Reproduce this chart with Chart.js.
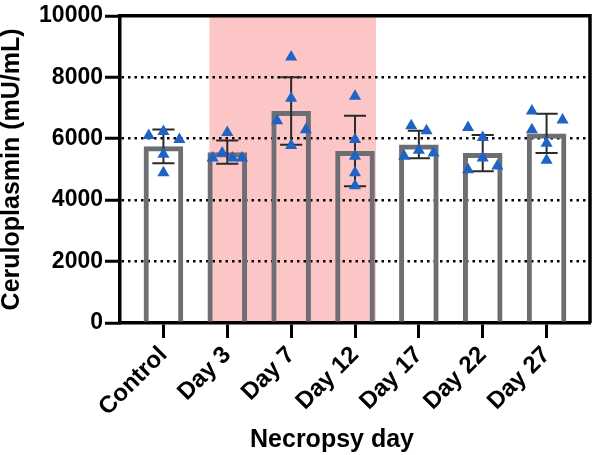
<!DOCTYPE html>
<html>
<head>
<meta charset="utf-8">
<script src="https://cdn.jsdelivr.net/npm/chart.js@4.4.1/dist/chart.umd.min.js"></script>
<style>
  html, body { margin: 0; padding: 0; background: #fff; }
  #wrap { width: 597px; height: 455px; }
</style>
</head>
<body>
<div id="wrap"><canvas id="cpChart"></canvas></div>
<script>
const days = ["Control", "Day 3", "Day 7", "Day 12", "Day 17", "Day 22", "Day 27"];
const means = [5750, 5560, 6900, 5600, 5810, 5530, 6170];
const sds = [550, 380, 1100, 1150, 450, 590, 640];

// one list of animals per day
const animals = [
    [6100, 6230, 5975, 5495, 4890],
    [5370, 5530, 6200, 5370, 5370],
    [6580, 8660, 7315, 5780, 6290],
    [7380, 5975, 5430, 4890, 4470],
    [5430, 6420, 5620, 6260, 5530],
    [6360, 6040, 5370, 4985, 5110],
    [6900, 6290, 6610, 5850, 5300]
];
// sideways spread of the dots, in category widths
const jitter = [
    [-0.23, 0, 0.25, 0, 0],
    [-0.23, -0.08, 0, 0.08, 0.23],
    [-0.22, 0, 0, 0, 0.23],
    [0, 0, 0, 0, 0],
    [-0.23, -0.12, 0, 0.12, 0.23],
    [-0.23, 0, 0, -0.23, 0.23],
    [-0.23, -0.23, 0.25, 0, 0]
];

const yTitle = "Ceruloplasmin (mU/mL)";
const xTitle = "Necropsy day";
const shaded = [0.72, 3.33]; // Day 3 .. Day 12 window

const fontFamily = "'Liberation Sans', Arial, sans-serif";

const shadePlugin = {
    id: "shade",
    beforeDraw(chart) {
        const { ctx, chartArea, scales } = chart;
        const x1 = scales.x.getPixelForValue(shaded[0]);
        const x2 = scales.x.getPixelForValue(shaded[1]);
        ctx.save();
        ctx.fillStyle = "rgb(252,198,198)";
        ctx.fillRect(x1, chartArea.top, x2 - x1, chartArea.bottom - chartArea.top);
        ctx.restore();
    }
};

const errorBars = {
    id: "errorBars",
    afterDatasetDraw(chart, args) {
        if (args.index !== 0) return;
        const { ctx, scales } = chart;
        ctx.save();
        ctx.strokeStyle = "#2a2a2a";
        ctx.lineWidth = 2;
        args.meta.data.forEach((bar, i) => {
            const hi = scales.y.getPixelForValue(means[i] + sds[i]);
            const lo = scales.y.getPixelForValue(means[i] - sds[i]);
            const half = bar.width * 0.28;
            ctx.beginPath();
            ctx.moveTo(bar.x, hi);
            ctx.lineTo(bar.x, lo);
            ctx.moveTo(bar.x - half, hi);
            ctx.lineTo(bar.x + half, hi);
            ctx.moveTo(bar.x - half, lo);
            ctx.lineTo(bar.x + half, lo);
            ctx.stroke();
        });
        ctx.restore();
    }
};

const framePlugin = {
    id: "frame",
    afterDraw(chart) {
        const { ctx, chartArea } = chart;
        ctx.save();
        ctx.strokeStyle = "#000";
        ctx.lineWidth = 3.5;
        ctx.beginPath();
        ctx.moveTo(chartArea.left, chartArea.top);
        ctx.lineTo(chartArea.right, chartArea.top);
        ctx.lineTo(chartArea.right, chartArea.bottom);
        ctx.stroke();

        ctx.fillStyle = "#000";
        ctx.font = "bold 25px " + fontFamily;
        ctx.textAlign = "center";
        ctx.textBaseline = "alphabetic";
        ctx.fillText(xTitle, (chartArea.left + chartArea.right) / 2 - 23, 447);
        ctx.restore();
    }
};

const barData = means.map((m, i) => ({ x: i, y: m }));
const dotData = animals.flatMap((vals, i) => vals.map((v, k) => ({ x: i + jitter[i][k], y: v })));

new Chart(document.getElementById("cpChart"), {
    type: "bar",
    data: {
        datasets: [{
            type: "bar",
            data: barData,
            backgroundColor: "rgba(0,0,0,0)",
            borderColor: "#6c6e73",
            borderWidth: 5,
            borderSkipped: "start",
            barPercentage: 0.62,
            categoryPercentage: 1,
            order: 1
        }, {
            type: "scatter",
            data: dotData,
            pointStyle: "triangle",
            pointRadius: 7,
            pointBackgroundColor: "#1f63c4",
            pointBorderColor: "#1f63c4",
            pointBorderWidth: 0,
            order: 0
        }]
    },
    options: {
        responsive: true,
        maintainAspectRatio: false,
        animation: false,
        layout: { padding: { top: 10, right: 3, left: 0, bottom: 0 } },
        plugins: { legend: { display: false }, tooltip: { enabled: false } },
        scales: {
            x: {
                type: "linear",
                min: -0.68,
                max: 6.68,
                offset: false,
                afterBuildTicks: s => { s.ticks = days.map((d, i) => ({ value: i })); },
                afterFit: s => { s.height = 132; },
                ticks: {
                    autoSkip: false,
                    minRotation: 45,
                    maxRotation: 45,
                    color: "#000",
                    padding: 3,
                    font: { family: fontFamily, size: 24, weight: "bold" },
                    callback: v => days[Math.round(v)]
                },
                grid: {
                    drawOnChartArea: false,
                    drawTicks: true,
                    tickLength: 15,
                    tickWidth: 3,
                    tickColor: "#000",
                    offset: false
                },
                border: { color: "#000", width: 3.5 }
            },
            y: {
                min: 0,
                max: 10000,
                afterFit: s => { s.width = 120; },
                ticks: {
                    stepSize: 2000,
                    color: "#000",
                    padding: 2,
                    font: { family: fontFamily, size: 23, weight: "bold" },
                    callback: v => String(v)
                },
                grid: {
                    color: c => (c.tick && c.tick.value > 0 && c.tick.value < 10000) ? "#000" : "rgba(0,0,0,0)",
                    lineWidth: 2.5,
                    tickLength: 15,
                    tickWidth: 3,
                    tickColor: "#000",
                    tickBorderDash: []
                },
                border: { color: "#000", width: 3.5, dash: [2.5, 4] },
                title: {
                    display: true,
                    text: yTitle,
                    color: "#000",
                    padding: 0,
                    font: { family: fontFamily, size: 25, weight: "bold", lineHeight: 1 }
                }
            }
        }
    },
    plugins: [shadePlugin, errorBars, framePlugin]
});
</script>
</body>
</html>
